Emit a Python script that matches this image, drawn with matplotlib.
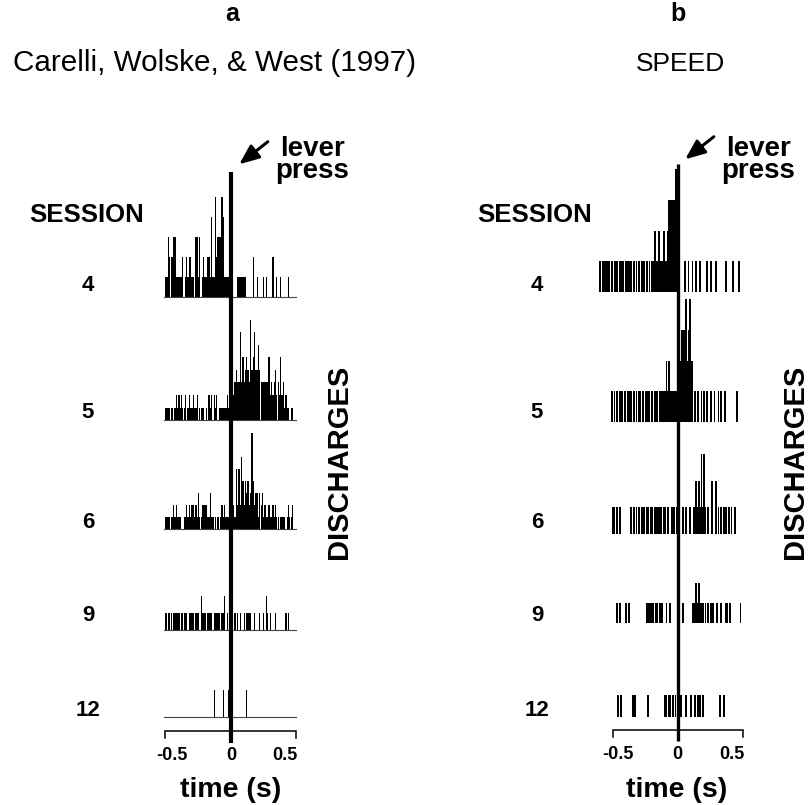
import matplotlib
matplotlib.use("Agg")
import matplotlib.pyplot as plt
import matplotlib.patches as mpatches
import numpy as np

W, H = 808, 805
BIN = 0.01

# ---------------- data ----------------
sessions = ["4", "5", "6", "9", "12"]
panel_letters = ["a", "b"]
panel_titles = ["Carelli, Wolske, & West (1997)", "SPEED"]
tick_values = [-0.5, 0, 0.5]
tick_labels = ["-0.5", "0", "0.5"]

# panel a: histogram counts, 10 ms bins from -0.5 s
left_start = -0.5
left_s4 = [1,1,3,2,2,2,3,3,1,1, 1,1,1,2,0,1,2,1,2,2, 1,1,0,3,3,1,3,0,1,2,
           1,1,2,2,1,4,1,1,5,2, 3,3,3,5,4,1,1,1,1,1, 0,0,0,0,0,1,1,1,1,1,
           1,1,0,0,0,0,0,2,0,0, 1,0,0,0,0,1,0,1,0,0, 0,0,2,0,0,1,0,0,1,0,
           0,0,0,0,1,0,0,0,0,0]
left_s5 = [1,1,1,1,1,1,0,1,2,1, 2,1,2,1,1,2,0,1,2,1, 1,2,1,1,2,0,1,1,1,1,
           0,1,0,2,1,2,0,2,1,2, 0,1,1,1,1,1,1,2,1,1, 1,2,2,3,4,3,3,7,3,5,
           3,4,5,4,3,8,4,5,7,4, 4,6,4,3,3,3,3,3,3,5, 2,3,2,3,4,2,3,2,5,2,
           3,1,2,1,1,0,1,1,0,0]
left_s6 = [1,1,1,1,1,1,2,1,2,1, 1,1,0,0,1,1,2,1,2,1, 2,2,1,2,1,3,1,1,2,2,
           2,2,1,1,3,1,1,0,1,0, 1,0,1,2,1,2,1,1,1,1, 1,3,2,1,5,2,5,2,6,4,
           2,4,3,4,2,3,8,4,2,3, 3,1,3,2,3,1,2,1,1,2, 1,1,2,1,2,1,1,0,1,1,
           1,1,0,1,2,1,1,2,0,0]
left_s9 = [1,0,1,1,1,0,1,1,1,1, 1,0,1,1,1,1,1,0,1,1, 1,1,0,1,1,1,0,2,1,1,
           1,0,1,1,1,1,0,1,1,1, 1,1,0,1,1,2,0,1,0,0, 0,0,0,1,0,1,0,1,0,0,
           1,0,1,1,1,1,0,0,1,0, 0,0,1,0,0,1,0,2,1,0, 1,0,0,0,1,0,0,0,0,0,
           0,0,1,0,1,0,0,0,0,0]
left_s12 = [0,0,0,0,0,0,0,0,0,0, 0,0,0,0,0,0,0,0,0,0, 0,0,0,0,0,0,0,0,0,0,
            0,0,0,0,0,0,0,1,0,0, 0,0,0,0,1,0,0,0,1,0, 0,0,0,0,0,0,0,0,0,0,
            0,0,1,0,0,0,0,0,0,0, 0,0,0,0,0,0,0,0,0,0, 0,0,0,0,0,0,0,0,0,0,
            0,0,0,0,0,0,0,0,0,0]

# panel b: counts, 10 ms bins from -0.6 s
right_start = -0.6
right_s4 = [1,0,1,0,1,1,0,1,0,1, 0,1,1,1,0,1,0,1,1,0, 1,1,1,1,1,0,1,0,1,0,
            1,0,1,0,1,0,1,0,1,0, 1,1,2,1,1,2,1,1,1,2, 1,1,2,3,3,3,3,3,4,4,
            0,0,0,0,0,1,0,0,1,0, 0,1,0,0,1,0,0,1,0,0, 0,0,1,0,0,1,0,0,0,1,
            0,0,0,0,0,0,0,1,0,0, 0,0,1,0,0,0,0,1,0,0]
right_s5 = [0,0,0,0,0,0,0,0,0,1, 0,1,0,1,0,1,0,1,0,1, 0,1,1,1,1,0,1,0,1,0,
            1,1,0,1,0,1,0,1,1,0, 1,0,1,0,1,0,1,1,1,1, 1,2,1,2,1,1,1,1,1,1,
            2,2,2,3,3,3,4,2,3,4, 2,2,0,1,0,1,0,0,1,0, 1,0,1,0,0,1,0,0,1,0,
            0,1,0,1,0,0,1,0,0,0, 0,0,0,0,0,1,0,0,0,0]
right_s6 = [0,0,0,0,0,0,0,0,0,0, 1,1,0,1,0,1,0,0,0,0, 0,0,0,0,1,0,1,0,1,0,
            1,0,1,0,1,0,1,1,0,1, 1,0,1,0,1,1,0,1,0,1, 1,0,1,0,0,1,0,1,0,1,
            0,0,0,0,1,0,1,0,0,1, 0,0,1,1,2,1,2,1,3,1, 3,1,0,1,0,0,2,0,0,2,
            0,1,0,1,0,1,0,1,0,1, 0,1,0,0,1,0,0,0,0,0]
right_s9 = [0,0,0,0,0,0,0,0,0,0, 0,0,0,1,0,1,0,0,0,0, 1,0,1,0,0,0,0,0,0,0,
            0,0,0,0,0,0,1,1,1,1, 1,1,0,1,1,0,1,1,1,0, 0,1,0,0,1,0,0,0,0,0,
            1,0,0,0,1,0,0,0,0,0, 0,1,1,1,2,1,2,1,1,1, 0,1,0,1,0,1,0,1,0,0,
            1,0,0,1,0,0,0,1,1,0, 1,0,0,0,0,0,0,0,1,0]
right_s12 = [0,0,0,0,0,0,0,0,0,0, 0,0,0,0,1,0,1,0,0,0, 0,0,0,0,0,1,0,1,0,0,
             0,0,0,0,0,0,0,1,0,0, 0,0,0,0,0,0,0,0,0,0, 1,1,0,1,1,0,1,0,1,0,
             1,0,1,0,0,0,1,0,0,0, 1,0,0,1,0,1,0,1,0,1, 0,0,0,0,0,0,0,0,0,0,
             0,0,1,0,0,1,0,0,0,0, 0,0,0,0,0,0,0,0,0,0]

left_rows = [left_s4, left_s5, left_s6, left_s9, left_s12]
right_rows = [right_s4, right_s5, right_s6, right_s9, right_s12]

# ---------------- layout (pixels) ----------------
left_base = [297, 420, 529, 630, 717]
left_unit = [20, 12.5, 12, 17, 27]
right_base = [292, 422, 534, 623, 717]
right_unit = [30.7, 30.7, 26.7, 20, 22]
label_y = [291, 418, 528, 621, 716]

FONT = "Liberation Sans"

fig = plt.figure(figsize=(W / 100, H / 100), dpi=100)
fig.patch.set_facecolor("white")


def panel_ax(center_px, scale_px):
    ax = fig.add_axes([0, 0, 1, 1])
    ax.set_xlim((0 - center_px) / scale_px, (W - center_px) / scale_px)
    ax.set_ylim(H, 0)
    ax.axis("off")
    ax.patch.set_alpha(0)
    return ax


axL = panel_ax(230.5, 130.5)
axR = panel_ax(677.5, 130.0)


def draw_rows(ax, rows, start, bases, units, width, baseline):
    for counts, base, unit in zip(rows, bases, units):
        c = np.asarray(counts, dtype=float)
        centers = start + BIN * (np.arange(len(c)) + 0.5)
        m = c > 0
        h = c[m] * unit
        ax.bar(centers[m], h, bottom=base - h, width=width,
               color="black", linewidth=0, align="center")
        if baseline:
            ax.plot([-0.51, 0.5], [base, base], color="#444444", lw=0.8)


draw_rows(axL, left_rows, left_start, left_base, left_unit, 0.0095, True)
draw_rows(axR, right_rows, right_start, right_base, right_unit, 0.0135, False)

# lever press vertical lines
axL.plot([0, 0], [172, 743], color="black", lw=3.0, solid_capstyle="butt")
axR.plot([0, 0], [164, 741], color="black", lw=2.4, solid_capstyle="butt")

# time axes brackets
for ax, y in ((axL, 731), (axR, 730)):
    ax.plot([-0.5, -0.5, 0.5, 0.5], [y + 7, y, y, y + 7],
            color="black", lw=1.1, solid_joinstyle="miter")


def ptext(x, y, s, size, weight="bold", ha="center", va="baseline", **kw):
    fig.text(x / W, 1 - y / H, s, fontsize=size, fontweight=weight,
             ha=ha, va=va, family=FONT, **kw)


# tick labels
for xs, yb in (([172, 231, 285], 760), ([618, 677, 732], 759)):
    for x, lab in zip(xs, tick_labels):
        ptext(x, yb, lab, 13)
ptext(231, 797, "time (s)", 20.5)
ptext(677, 797, "time (s)", 20.5)

# panel letters and titles
ptext(232, 21, panel_letters[0], 18)
ptext(678, 21, panel_letters[1], 18)
ptext(215, 71, panel_titles[0], 21.3, weight="normal")
ptext(680, 71, panel_titles[1], 19, weight="normal")

# lever press text and arrows
for cx, tip, tail in ((312, (237, 166), (270, 140)), (758, (683, 161), (716, 135))):
    ptext(cx, 160, "lever\npress", 20, va="center", multialignment="center",
          linespacing=0.8)
    fig.patches.append(mpatches.FancyArrowPatch(
        (tail[0] / W, 1 - tail[1] / H), (tip[0] / W, 1 - tip[1] / H),
        transform=fig.transFigure,
        arrowstyle="-|>,head_length=1.2,head_width=0.5",
        mutation_scale=10, color="black", lw=2.2))

# session labels
ptext(87, 222, "SESSION", 18.5)
ptext(535, 222, "SESSION", 18.5)
for s, y in zip(sessions, label_y):
    ptext(88, y, s, 16)
    ptext(537, y, s, 16)

# DISCHARGES
ptext(339, 462, "DISCHARGES", 21, va="center", rotation=90)
ptext(795, 462, "DISCHARGES", 21, va="center", rotation=90)

fig.savefig("out.png", dpi=100, facecolor="white")
